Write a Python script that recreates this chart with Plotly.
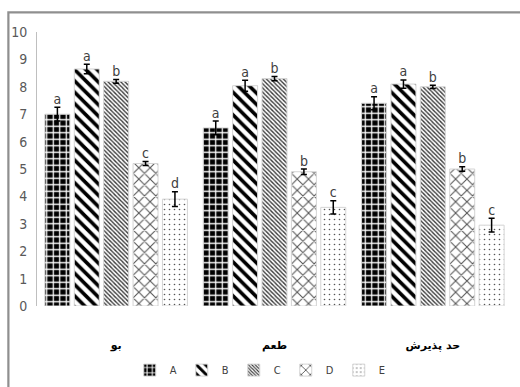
import plotly.graph_objects as go

# Sensory attributes (x categories)
categories = ["بو", "طعم", "حد پذیرش"]
series_names = ["A", "B", "C", "D", "E"]

# Mean scores per treatment
a_vals = [7.0, 6.5, 7.4]
b_vals = [8.65, 8.04, 8.1]
c_vals = [8.2, 8.3, 8.0]
d_vals = [5.2, 4.9, 5.0]
e_vals = [3.9, 3.6, 2.95]

# Standard errors
a_err = [0.25, 0.25, 0.24]
b_err = [0.17, 0.2, 0.15]
c_err = [0.07, 0.08, 0.06]
d_err = [0.07, 0.1, 0.08]
e_err = [0.27, 0.24, 0.25]

# Significance letters
a_sig = ["a", "a", "a"]
b_sig = ["a", "a", "a"]
c_sig = ["b", "b", "b"]
d_sig = ["c", "b", "b"]
e_sig = ["d", "c", "c"]

values = [a_vals, b_vals, c_vals, d_vals, e_vals]
errors = [a_err, b_err, c_err, d_err, e_err]
letters = [a_sig, b_sig, c_sig, d_sig, e_sig]

patterns = [
    dict(shape="+", fgcolor="white", bgcolor="black", size=6.5, solidity=0.35, fillmode="replace"),
    dict(shape="\\", fgcolor="black", bgcolor="white", size=8, solidity=0.45, fillmode="replace"),
    dict(shape="\\", fgcolor="#3a3a3a", bgcolor="white", size=3, solidity=0.45, fillmode="replace"),
    dict(shape="x", fgcolor="#555555", bgcolor="white", size=8, solidity=0.25, fillmode="replace"),
    dict(shape=".", fgcolor="#555555", bgcolor="white", size=5, solidity=0.08, fillmode="replace"),
]

label_font = "DejaVu Sans Condensed, Liberation Sans Narrow, Roboto Condensed, sans-serif"

fig = go.Figure()
for name, vals, errs, pat in zip(series_names, values, errors, patterns):
    fig.add_trace(go.Bar(
        x=categories, y=vals, name=name, offsetgroup=name,
        marker=dict(color="white", pattern=pat, line=dict(color="#d4d4d4", width=1)),
        error_y=dict(type="data", array=errs, visible=True, color="black", thickness=1.5, width=3),
    ))

for name, vals, errs, sig in zip(series_names, values, errors, letters):
    fig.add_trace(go.Scatter(
        x=categories, y=[v + e for v, e in zip(vals, errs)], text=sig,
        mode="text", textposition="top center", offsetgroup=name,
        textfont=dict(family=label_font, size=14, color="#404040"),
        showlegend=False, hoverinfo="skip", cliponaxis=False,
    ))

# Outer chart frame: top and left edges, the rest runs off the page
fig.add_shape(type="rect", xref="paper", yref="paper",
              x0=-0.061, x1=1.05, y0=-0.35, y1=1.073,
              line=dict(color="#8f8f8f", width=1.5), fillcolor="rgba(0,0,0,0)",
              layer="above")
fig.add_annotation(
    xref="paper", yref="paper", x=-0.061, y=1.073, xanchor="left", yanchor="top",
    text=" ", showarrow=False, width=560, height=420,
    bordercolor="#8f8f8f", borderwidth=1.5, borderpad=0,
)

fig.update_layout(
    width=520, height=387,
    margin=dict(l=37, r=8, t=32, b=81, autoexpand=False),
    paper_bgcolor="white", plot_bgcolor="white",
    barmode="group", bargap=0.072, bargroupgap=0.15,
    scattermode="group", scattergap=0.072,
    showlegend=True,
    legend=dict(orientation="h", x=0.47, xanchor="center", y=-0.234, yanchor="middle",
                font=dict(family=label_font, size=11, color="#404040"),
                itemwidth=30, tracegroupgap=0),
    font=dict(family=label_font, color="#595959"),
)
fig.update_xaxes(showline=False, showgrid=False, ticks="",
                 tickfont=dict(family="DejaVu Sans, Noto Sans", size=11, color="black", weight="bold"),
                 ticklabelstandoff=31)
fig.update_yaxes(range=[0, 10], dtick=1, showgrid=False, zeroline=False,
                 showline=True, linecolor="#bfbfbf", linewidth=1, ticks="",
                 ticklabelstandoff=6,
                 tickfont=dict(family=label_font, size=14, color="#595959"))

fig.write_html("out.html")
